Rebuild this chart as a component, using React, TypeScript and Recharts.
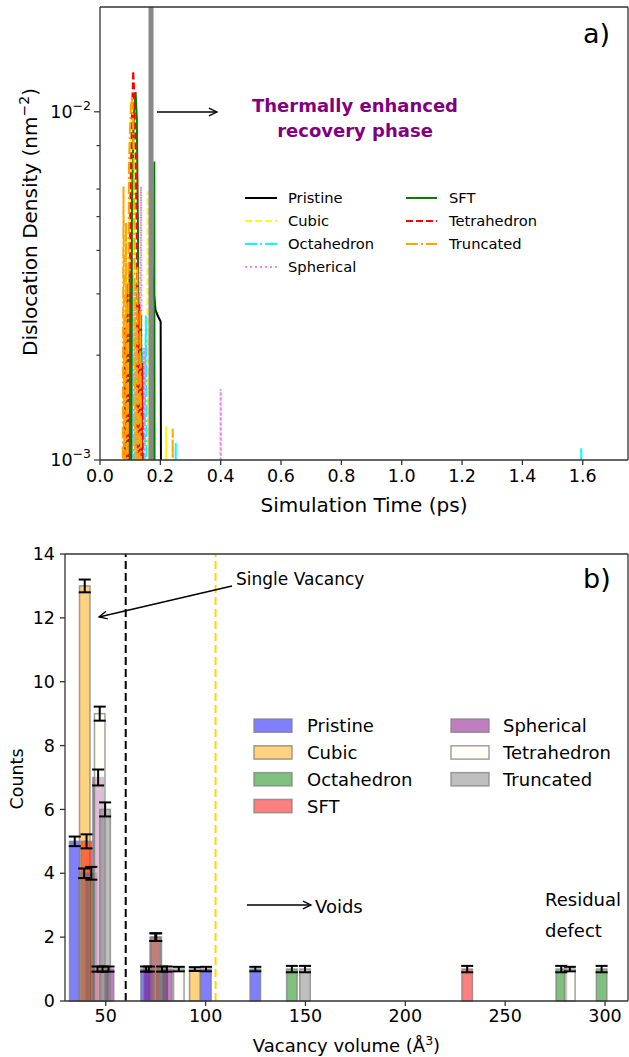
import React from "react";
import {
  LineChart, Line, BarChart, Bar, ErrorBar,
  XAxis, YAxis, ReferenceLine,
} from "recharts";

const FONT = "'DejaVu Sans', sans-serif";

// a) dislocation density, [time (ps), density (nm^-2)]; 0.0004 = fell to zero (below the axis)
const PRISTINE_RHO = [[0.164, 0.0004], [0.168, 0.0048], [0.174, 0.0034], [0.177, 0.0031], [0.184, 0.0027], [0.191, 0.0026], [0.201, 0.0025], [0.203, 0.0004]];
const CUBIC_RHO = [[0.084, 0.0004], [0.088, 0.0036], [0.092, 0.0004], [0.098, 0.0062], [0.104, 0.0095], [0.108, 0.0104], [0.112, 0.0068], [0.116, 0.0004], [0.124, 0.003], [0.128, 0.0004], [0.134, 0.0024], [0.138, 0.0004], [0.156, 0.0004], [0.158, 0.0059], [0.16, 0.0004], [0.217, 0.0004], [0.219, 0.00125], [0.221, 0.0004]];
const OCTA_RHO = [[0.096, 0.0004], [0.1, 0.0027], [0.104, 0.0004], [0.108, 0.0034], [0.112, 0.0004], [0.118, 0.0024], [0.122, 0.0004], [0.128, 0.0031], [0.132, 0.0004], [0.14, 0.0021], [0.144, 0.0004], [0.152, 0.0026], [0.156, 0.0004], [0.249, 0.0004], [0.251, 0.00113], [0.253, 0.0004], [1.593, 0.0004], [1.595, 0.00108], [1.597, 0.0004]];
const SPHERE_RHO = [[0.09, 0.0004], [0.094, 0.0024], [0.098, 0.0004], [0.104, 0.0038], [0.108, 0.0004], [0.116, 0.0032], [0.12, 0.0004], [0.126, 0.0046], [0.13, 0.0004], [0.136, 0.0061], [0.14, 0.0004], [0.146, 0.0021], [0.15, 0.0004], [0.398, 0.0004], [0.4, 0.0016], [0.402, 0.0004]];
const SFT_RHO = [[0.084, 0.0004], [0.09, 0.0022], [0.094, 0.0004], [0.098, 0.0035], [0.102, 0.0004], [0.106, 0.0055], [0.112, 0.0098], [0.118, 0.0114], [0.122, 0.0096], [0.126, 0.0045], [0.13, 0.0004], [0.136, 0.0026], [0.14, 0.0004], [0.179, 0.0004], [0.18, 0.0072], [0.181, 0.0004]];
const TETRA_RHO = [[0.078, 0.0004], [0.082, 0.0024], [0.086, 0.0004], [0.09, 0.0032], [0.094, 0.0004], [0.1, 0.0052], [0.106, 0.0098], [0.11, 0.0131], [0.114, 0.0112], [0.118, 0.0075], [0.122, 0.0042], [0.126, 0.0004], [0.13, 0.0028], [0.134, 0.0004], [0.14, 0.0019], [0.144, 0.0004]];
const TRUNC_RHO = [[0.074, 0.0004], [0.078, 0.0061], [0.082, 0.0004], [0.086, 0.0048], [0.09, 0.0004], [0.096, 0.0072], [0.102, 0.0103], [0.106, 0.0111], [0.11, 0.0092], [0.114, 0.0046], [0.118, 0.0004], [0.124, 0.0036], [0.128, 0.0004], [0.134, 0.0027], [0.138, 0.0004], [0.239, 0.0004], [0.241, 0.00123], [0.243, 0.0004]];

const TIME_TICKS = [0, 0.2, 0.4, 0.6, 0.8, 1.0, 1.2, 1.4, 1.6];
const RHO_TICKS = [0.001, 0.002, 0.003, 0.004, 0.005, 0.006, 0.007, 0.008, 0.009, 0.01];
const RECOVERY_TIME = 0.169;

// b) vacancy clusters, [volume (A^3), count, error]
const PRISTINE_BARS = [[34.5, 5, 0.15], [70.2, 1, 0.08], [100.2, 1, 0.07], [124.9, 1, 0.07]];
const CUBIC_BARS = [[39.5, 13, 0.2], [94.6, 1, 0.06]];
const OCTA_BARS = [[42.8, 4, 0.2], [48.4, 1, 0.08], [78.2, 1, 0.08], [143.2, 1, 0.1], [278.1, 1, 0.1], [298.3, 1, 0.1]];
const SFT_BARS = [[40.4, 5, 0.22], [45.9, 1, 0.08], [74.8, 2, 0.12], [231, 1, 0.1]];
const SPHERE_BARS = [[46.2, 7, 0.25], [51.4, 1, 0.08], [71.6, 1, 0.08], [80.6, 1, 0.08]];
const TETRA_BARS = [[47.0, 9, 0.22], [86.6, 1, 0.07], [282.4, 1, 0.07]];
const TRUNC_BARS = [[39.2, 4, 0.15], [49.7, 6, 0.22], [75.3, 2, 0.12], [149.8, 1, 0.1]];

const VOLUME_TICKS = [50, 100, 150, 200, 250, 300];
const COUNT_TICKS = [0, 2, 4, 6, 8, 10, 12, 14];
const SINGLE_VACANCY_CUT = 60;
const VOID_CUT = 105;

const LINE_SERIES = [
  { name: "Pristine", data: PRISTINE_RHO, color: "#000000", dash: undefined },
  { name: "Cubic", data: CUBIC_RHO, color: "#ffff00", dash: "7 3" },
  { name: "Octahedron", data: OCTA_RHO, color: "#00ffff", dash: "12 3 2 3" },
  { name: "Spherical", data: SPHERE_RHO, color: "#ee82ee", dash: "2 3" },
  { name: "SFT", data: SFT_RHO, color: "#008000", dash: undefined },
  { name: "Tetrahedron", data: TETRA_RHO, color: "#ff0000", dash: "7 3" },
  { name: "Truncated", data: TRUNC_RHO, color: "#ffa500", dash: "12 3 2 3" },
];

const BAR_SERIES = [
  { name: "Pristine", bars: PRISTINE_BARS, color: "blue" },
  { name: "Cubic", bars: CUBIC_BARS, color: "orange" },
  { name: "Octahedron", bars: OCTA_BARS, color: "green" },
  { name: "SFT", bars: SFT_BARS, color: "red" },
  { name: "Spherical", bars: SPHERE_BARS, color: "purple" },
  { name: "Tetrahedron", bars: TETRA_BARS, color: "ivory" },
  { name: "Truncated", bars: TRUNC_BARS, color: "gray" },
];

const VOLUME_ROWS = BAR_SERIES
  .flatMap((s) => s.bars.map(([v, n, e]) => ({ v, [s.name]: n, [s.name + "_err"]: e })))
  .sort((a, b) => a.v - b.v);

const AX = "#333";
const BAR_W = 10.5;

function LogTick(props: any) {
  const { x, y, payload } = props;
  const v = payload.value as number;
  const exp = Math.log10(v);
  const major = Math.abs(exp - Math.round(exp)) < 1e-6;
  return (
    <g>
      <line x1={x - (major ? 6 : 3.5)} x2={x} y1={y} y2={y} stroke={AX} strokeWidth={1.2} />
      {major && (
        <text x={x - 9} y={y + 6} textAnchor="end" fontSize={17.5} fontFamily={FONT} fill="#000">
          10<tspan dy={-8} fontSize={12.5}>{"\u2212" + Math.abs(Math.round(exp))}</tspan>
        </text>
      )}
    </g>
  );
}

function barShape(name: string, color: string) {
  return (p: any) => {
    if (p.payload == null || p.payload[name] == null || !isFinite(p.y) || !isFinite(p.height)) return <g />;
    const cx = p.x + p.width / 2;
    return (
      <rect x={cx - BAR_W / 2} y={p.y} width={BAR_W} height={p.height}
        fill={color} fillOpacity={0.5} stroke="#808080" strokeOpacity={0.75} strokeWidth={1.5} />
    );
  };
}

function Arrow({ x1, y1, x2, y2 }: { x1: number; y1: number; x2: number; y2: number }) {
  const a = Math.atan2(y2 - y1, x2 - x1);
  const L = 9, s = 0.45;
  return (
    <g stroke="#000" strokeWidth={1.3} fill="none">
      <line x1={x1} y1={y1} x2={x2} y2={y2} />
      <polyline points={`${x2 - L * Math.cos(a - s)},${y2 - L * Math.sin(a - s)} ${x2},${y2} ${x2 - L * Math.cos(a + s)},${y2 - L * Math.sin(a + s)}`} />
    </g>
  );
}

const tickStyle = { fontSize: 17.5, fill: "#000", fontFamily: FONT };

export default function App() {
  const col1 = LINE_SERIES.slice(0, 4);
  const col2 = LINE_SERIES.slice(4);
  const bcol1 = BAR_SERIES.slice(0, 4);
  const bcol2 = BAR_SERIES.slice(4);
  return (
    <div style={{ position: "absolute", left: 0, top: 0, width: 629, height: 1057, background: "#fff", fontFamily: FONT }}>
      <div style={{ position: "absolute", left: 0, top: 0 }}>
        <LineChart width={629} height={520} margin={{ top: 7, right: 1, bottom: 30, left: 40 }}>
          <XAxis type="number" dataKey="t" domain={[0, 1.75]} ticks={TIME_TICKS} allowDataOverflow
            tickFormatter={(v) => Number(v).toFixed(1)} tick={tickStyle} tickSize={5} tickMargin={5}
            stroke={AX} strokeWidth={1.3} height={30} />
          <YAxis type="number" scale="log" domain={[0.001, 0.02]} ticks={RHO_TICKS} allowDataOverflow
            tick={(p: any) => <LogTick {...p} />} tickLine={false} tickSize={0} tickMargin={0}
            stroke={AX} strokeWidth={1.3} width={60} />
          {LINE_SERIES.map((s) => (
            <Line key={s.name} data={s.data.map(([t, rho]) => ({ t, rho }))} dataKey="rho" type="linear"
              stroke={s.color} strokeWidth={2} strokeDasharray={s.dash} dot={false} isAnimationActive={false} />
          ))}
          <ReferenceLine x={RECOVERY_TIME} stroke="#888" strokeWidth={5} />
          <ReferenceLine y={0.02} stroke={AX} strokeWidth={1.3} />
          <ReferenceLine x={1.75} stroke={AX} strokeWidth={1.3} />
        </LineChart>
      </div>

      <div style={{ position: "absolute", left: 0, top: 520 }}>
        <BarChart width={629} height={537} data={VOLUME_ROWS} margin={{ top: 34, right: 1, bottom: 26, left: 20 }}
          barGap={0} barCategoryGap={0}>
          {BAR_SERIES.map((s) => (
            <XAxis key={s.name} xAxisId={s.name} type="number" dataKey="v" domain={[29.6, 311.5]}
              allowDataOverflow hide height={0} />
          ))}
          <XAxis xAxisId="main" type="number" dataKey="v" domain={[29.6, 311.5]} ticks={VOLUME_TICKS} allowDataOverflow
            tick={tickStyle} tickSize={5} tickMargin={4} stroke={AX} strokeWidth={1.3} height={30} />
          <YAxis type="number" domain={[0, 14]} ticks={COUNT_TICKS} tick={tickStyle} tickSize={5} tickMargin={5}
            stroke={AX} strokeWidth={1.3} width={45} />
          {BAR_SERIES.map((s) => (
            <Bar key={s.name} xAxisId={s.name} dataKey={s.name} barSize={BAR_W} shape={barShape(s.name, s.color)}
              isAnimationActive={false}>
              <ErrorBar dataKey={s.name + "_err"} width={6} strokeWidth={2} stroke="#000" />
            </Bar>
          ))}
          <ReferenceLine xAxisId="main" x={SINGLE_VACANCY_CUT} stroke="#000" strokeWidth={2} strokeDasharray="8 4" />
          <ReferenceLine xAxisId="main" x={VOID_CUT} stroke="#ffd700" strokeWidth={2} strokeDasharray="8 4" />
          <ReferenceLine xAxisId="main" y={14} stroke={AX} strokeWidth={1.3} />
          <ReferenceLine xAxisId="main" x={311.5} stroke={AX} strokeWidth={1.3} />
        </BarChart>
      </div>

      <svg width={629} height={1057} style={{ position: "absolute", left: 0, top: 0, pointerEvents: "none" }}
        fontFamily={FONT}>
        {/* panel a */}
        <text x={583} y={43} fontSize={27} fill="#000">a)</text>
        <Arrow x1={157} y1={112} x2={217} y2={112} />
        <text x={355} y={112} fontSize={18} fontWeight="bold" fill="#800080" textAnchor="middle">Thermally enhanced</text>
        <text x={355} y={137} fontSize={18} fontWeight="bold" fill="#800080" textAnchor="middle">recovery phase</text>
        {col1.map((s, i) => (
          <g key={s.name}>
            <line x1={245} x2={277} y1={198 + i * 23} y2={198 + i * 23} stroke={s.color} strokeWidth={2} strokeDasharray={s.dash} />
            <text x={288} y={198 + i * 23 + 5} fontSize={14.7} fill="#000">{s.name}</text>
          </g>
        ))}
        {col2.map((s, i) => (
          <g key={s.name}>
            <line x1={406} x2={437} y1={198 + i * 23} y2={198 + i * 23} stroke={s.color} strokeWidth={2} strokeDasharray={s.dash} />
            <text x={449} y={198 + i * 23 + 5} fontSize={14.7} fill="#000">{s.name}</text>
          </g>
        ))}
        <text x={364} y={512} fontSize={20} textAnchor="middle" fill="#000">Simulation Time (ps)</text>
        <text transform="translate(36.5,222) rotate(-90)" fontSize={20} textAnchor="middle" fill="#000">
          Dislocation Density (nm<tspan dy={-8} fontSize={14}>{"\u22122"}</tspan><tspan dy={8}>)</tspan>
        </text>

        {/* panel b */}
        <text x={583} y={588} fontSize={27} fill="#000">b)</text>
        <text x={236} y={585} fontSize={17} fill="#000">Single Vacancy</text>
        <Arrow x1={232} y1={586} x2={99} y2={617} />
        <Arrow x1={247} y1={905} x2={311} y2={905} />
        <text x={315} y={913} fontSize={18} fill="#000">Voids</text>
        <text x={545} y={906} fontSize={18} fill="#000">Residual</text>
        <text x={545} y={937} fontSize={18} fill="#000">defect</text>
        {bcol1.map((s, i) => (
          <g key={s.name}>
            <rect x={254} y={719 + i * 26.8} width={38} height={13.3} fill={s.color} fillOpacity={0.5} stroke="#808080" strokeOpacity={0.75} strokeWidth={1.5} />
            <text x={307} y={725.7 + i * 26.8 + 6.5} fontSize={18} fill="#000">{s.name}</text>
          </g>
        ))}
        {bcol2.map((s, i) => (
          <g key={s.name}>
            <rect x={451} y={719 + i * 26.8} width={38} height={13.3} fill={s.color} fillOpacity={0.5} stroke="#808080" strokeOpacity={0.75} strokeWidth={1.5} />
            <text x={503} y={725.7 + i * 26.8 + 6.5} fontSize={18} fill="#000">{s.name}</text>
          </g>
        ))}
        <text x={346.5} y={1052} fontSize={18} textAnchor="middle" fill="#000">
          Vacancy volume (Å<tspan dy={-7} fontSize={12.5}>3</tspan><tspan dy={7}>)</tspan>
        </text>
        <text transform="translate(23,779) rotate(-90)" fontSize={17.5} textAnchor="middle" fill="#000">Counts</text>
      </svg>
    </div>
  );
}
